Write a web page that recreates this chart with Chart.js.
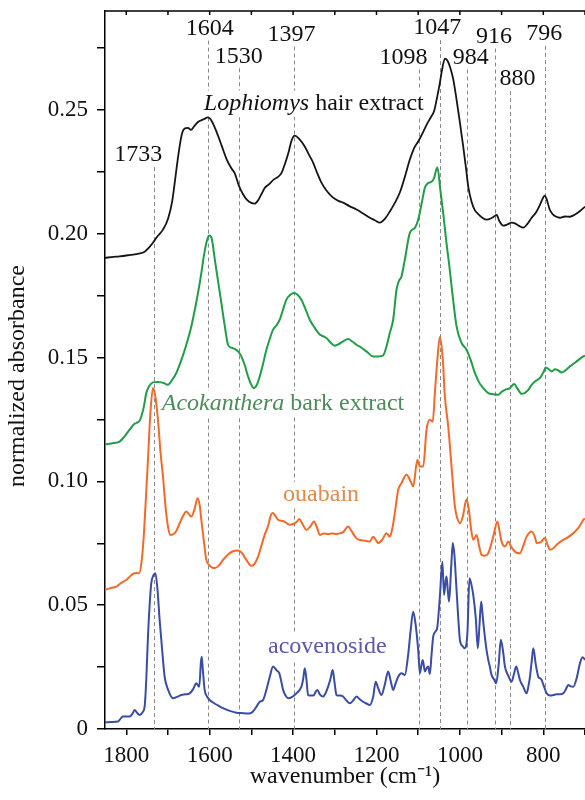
<!DOCTYPE html>
<html>
<head>
<meta charset="utf-8">
<script src="https://cdn.jsdelivr.net/npm/chart.js@4/dist/chart.umd.min.js"></script>
<style>
  body { margin: 0; background: #fff; }
  #spectra { display: block; }
</style>
</head>
<body>
<canvas id="spectra" width="585" height="800"></canvas>
<script>
// Lophiomys hair extract
const hairWn = [1851, 1830, 1816, 1790, 1770, 1756, 1745, 1736, 1725, 1712, 1700, 1690, 1682, 1675, 1667, 1660, 1652, 1645, 1637, 1628, 1615, 1604, 1595, 1583, 1570, 1559, 1548, 1540, 1530, 1520, 1511, 1500, 1492, 1484, 1476, 1468, 1458, 1446, 1436, 1428, 1418, 1410, 1403, 1396, 1386, 1372, 1362, 1352, 1342, 1332, 1320, 1304, 1290, 1280, 1265, 1248, 1232, 1216, 1204, 1192, 1180, 1168, 1156, 1144, 1132, 1120, 1110, 1100, 1090, 1080, 1070, 1062, 1056, 1048, 1042, 1036, 1030, 1024, 1016, 1008, 1000, 992, 985, 980, 972, 964, 956, 946, 936, 926, 918, 912, 905, 896, 886, 876, 868, 858, 848, 838, 828, 818, 810, 802, 797, 792, 785, 778, 770, 760, 748, 736, 724, 712, 700];
const hairAbs = [0.1903, 0.1907, 0.1909, 0.1915, 0.1920, 0.1928, 0.1945, 0.1964, 0.1990, 0.2017, 0.2060, 0.2130, 0.2230, 0.2320, 0.2400, 0.2425, 0.2428, 0.2420, 0.2435, 0.2452, 0.2462, 0.2470, 0.2455, 0.2410, 0.2350, 0.2300, 0.2265, 0.2245, 0.2195, 0.2160, 0.2138, 0.2125, 0.2122, 0.2135, 0.2160, 0.2185, 0.2200, 0.2220, 0.2230, 0.2245, 0.2290, 0.2335, 0.2380, 0.2397, 0.2385, 0.2353, 0.2320, 0.2288, 0.2245, 0.2207, 0.2175, 0.2146, 0.2132, 0.2126, 0.2112, 0.2098, 0.2082, 0.2065, 0.2055, 0.2045, 0.2060, 0.2090, 0.2125, 0.2167, 0.2230, 0.2300, 0.2345, 0.2373, 0.2405, 0.2440, 0.2470, 0.2495, 0.2540, 0.2610, 0.2670, 0.2708, 0.2700, 0.2676, 0.2625, 0.2542, 0.2450, 0.2352, 0.2260, 0.2191, 0.2130, 0.2095, 0.2080, 0.2065, 0.2057, 0.2062, 0.2070, 0.2076, 0.2050, 0.2033, 0.2038, 0.2045, 0.2042, 0.2032, 0.2025, 0.2040, 0.2065, 0.2085, 0.2110, 0.2140, 0.2154, 0.2140, 0.2100, 0.2080, 0.2070, 0.2065, 0.2070, 0.2069, 0.2078, 0.2092, 0.2110];

// Acokanthera bark extract
const barkWn = [1851, 1830, 1816, 1805, 1792, 1782, 1776, 1768, 1764, 1758, 1752, 1745, 1736, 1726, 1716, 1708, 1700, 1692, 1680, 1668, 1656, 1644, 1636, 1628, 1621, 1614, 1607, 1601, 1595, 1588, 1580, 1572, 1564, 1556, 1548, 1540, 1532, 1524, 1516, 1508, 1500, 1494, 1487, 1480, 1472, 1464, 1456, 1448, 1440, 1432, 1424, 1416, 1406, 1398, 1390, 1380, 1370, 1360, 1348, 1336, 1326, 1320, 1310, 1300, 1290, 1280, 1268, 1258, 1248, 1236, 1222, 1208, 1196, 1184, 1176, 1168, 1160, 1152, 1146, 1140, 1132, 1120, 1108, 1100, 1092, 1084, 1076, 1068, 1062, 1054, 1047, 1040, 1032, 1026, 1020, 1008, 996, 984, 974, 964, 954, 944, 932, 920, 908, 900, 892, 880, 870, 862, 852, 844, 836, 828, 820, 808, 800, 794, 786, 780, 772, 766, 756, 746, 736, 720, 704, 700];
const barkAbs = [0.1150, 0.1155, 0.1161, 0.1180, 0.1209, 0.1230, 0.1236, 0.1245, 0.1262, 0.1300, 0.1357, 0.1385, 0.1400, 0.1402, 0.1400, 0.1396, 0.1390, 0.1405, 0.1438, 0.1490, 0.1552, 0.1626, 0.1690, 0.1761, 0.1830, 0.1910, 0.1970, 0.1993, 0.1980, 0.1900, 0.1810, 0.1721, 0.1630, 0.1552, 0.1540, 0.1535, 0.1525, 0.1505, 0.1470, 0.1424, 0.1390, 0.1377, 0.1390, 0.1424, 0.1475, 0.1532, 0.1575, 0.1613, 0.1630, 0.1653, 0.1695, 0.1734, 0.1755, 0.1761, 0.1755, 0.1734, 0.1695, 0.1653, 0.1620, 0.1593, 0.1585, 0.1579, 0.1560, 0.1548, 0.1555, 0.1566, 0.1575, 0.1565, 0.1552, 0.1540, 0.1522, 0.1505, 0.1505, 0.1509, 0.1545, 0.1600, 0.1653, 0.1774, 0.1810, 0.1828, 0.1896, 0.2004, 0.2024, 0.2057, 0.2120, 0.2186, 0.2205, 0.2210, 0.2225, 0.2269, 0.2180, 0.2084, 0.1960, 0.1880, 0.1790, 0.1626, 0.1559, 0.1532, 0.1490, 0.1438, 0.1400, 0.1377, 0.1357, 0.1352, 0.1350, 0.1362, 0.1370, 0.1377, 0.1393, 0.1375, 0.1354, 0.1358, 0.1370, 0.1390, 0.1404, 0.1418, 0.1440, 0.1460, 0.1452, 0.1444, 0.1453, 0.1450, 0.1440, 0.1450, 0.1465, 0.1485, 0.1505, 0.1508];

// ouabain
const ouabainWn = [1851, 1840, 1824, 1812, 1800, 1790, 1784, 1775, 1769, 1763, 1758, 1754, 1748, 1742, 1736, 1730, 1724, 1718, 1712, 1706, 1700, 1694, 1688, 1680, 1672, 1664, 1656, 1650, 1644, 1636, 1629, 1624, 1620, 1614, 1608, 1600, 1594, 1588, 1578, 1568, 1556, 1544, 1532, 1522, 1512, 1500, 1492, 1484, 1476, 1468, 1460, 1454, 1449, 1442, 1436, 1424, 1414, 1408, 1400, 1392, 1385, 1378, 1368, 1358, 1350, 1342, 1336, 1326, 1316, 1306, 1296, 1288, 1280, 1268, 1260, 1248, 1236, 1226, 1216, 1208, 1202, 1196, 1186, 1176, 1168, 1162, 1156, 1148, 1140, 1128, 1118, 1112, 1102, 1096, 1088, 1080, 1072, 1065, 1060, 1054, 1048, 1041, 1036, 1028, 1020, 1012, 1006, 1000, 993, 984, 978, 974, 968, 960, 954, 948, 940, 932, 926, 920, 910, 904, 900, 892, 884, 878, 872, 864, 856, 848, 840, 828, 820, 816, 806, 796, 790, 784, 776, 768, 756, 744, 732, 720, 712, 704, 700];
const ouabainAbs = [0.0562, 0.0568, 0.0575, 0.0590, 0.0602, 0.0618, 0.0627, 0.0630, 0.0629, 0.0680, 0.0780, 0.0900, 0.1087, 0.1280, 0.1377, 0.1340, 0.1249, 0.1120, 0.1020, 0.0900, 0.0818, 0.0784, 0.0786, 0.0800, 0.0831, 0.0860, 0.0878, 0.0868, 0.0858, 0.0890, 0.0932, 0.0905, 0.0845, 0.0760, 0.0683, 0.0660, 0.0652, 0.0650, 0.0660, 0.0683, 0.0705, 0.0718, 0.0721, 0.0710, 0.0683, 0.0659, 0.0668, 0.0696, 0.0740, 0.0785, 0.0820, 0.0860, 0.0872, 0.0860, 0.0845, 0.0840, 0.0830, 0.0825, 0.0828, 0.0835, 0.0848, 0.0830, 0.0804, 0.0820, 0.0838, 0.0810, 0.0784, 0.0790, 0.0787, 0.0790, 0.0788, 0.0790, 0.0795, 0.0818, 0.0800, 0.0770, 0.0762, 0.0760, 0.0757, 0.0777, 0.0765, 0.0751, 0.0765, 0.0791, 0.0777, 0.0810, 0.0872, 0.0966, 0.0993, 0.1027, 0.1000, 0.0980, 0.1087, 0.1060, 0.1060, 0.1209, 0.1249, 0.1242, 0.1357, 0.1492, 0.1583, 0.1492, 0.1343, 0.1222, 0.1060, 0.0899, 0.0850, 0.0831, 0.0858, 0.0928, 0.0880, 0.0818, 0.0764, 0.0784, 0.0740, 0.0703, 0.0700, 0.0710, 0.0740, 0.0777, 0.0838, 0.0790, 0.0757, 0.0737, 0.0757, 0.0740, 0.0724, 0.0712, 0.0710, 0.0740, 0.0777, 0.0798, 0.0775, 0.0751, 0.0755, 0.0771, 0.0745, 0.0724, 0.0730, 0.0744, 0.0760, 0.0771, 0.0785, 0.0804, 0.0822, 0.0845, 0.0850];

// acovenoside
const acovWn = [1851, 1835, 1820, 1812, 1808, 1792, 1784, 1780, 1774, 1768, 1760, 1756, 1752, 1748, 1744, 1740, 1735, 1730, 1725, 1720, 1714, 1708, 1700, 1688, 1678, 1668, 1658, 1648, 1640, 1632, 1628, 1625, 1621, 1619, 1616, 1612, 1606, 1600, 1590, 1580, 1568, 1552, 1536, 1520, 1506, 1500, 1494, 1488, 1480, 1472, 1464, 1456, 1448, 1440, 1433, 1428, 1424, 1418, 1412, 1402, 1392, 1380, 1376, 1372, 1368, 1364, 1356, 1350, 1346, 1342, 1336, 1328, 1322, 1316, 1310, 1305, 1300, 1296, 1288, 1280, 1272, 1264, 1256, 1248, 1240, 1232, 1224, 1216, 1208, 1202, 1196, 1188, 1180, 1172, 1166, 1160, 1154, 1148, 1140, 1132, 1124, 1118, 1112, 1106, 1100, 1096, 1092, 1089, 1084, 1080, 1076, 1072, 1068, 1064, 1058, 1054, 1048, 1042, 1038, 1034, 1032, 1029, 1026, 1021, 1017, 1013, 1009, 1004, 1000, 994, 988, 982, 977, 972, 968, 962, 957, 953, 949, 946, 942, 937, 932, 928, 924, 918, 913, 907, 902, 897, 892, 884, 876, 870, 865, 860, 856, 848, 840, 836, 832, 828, 824, 818, 812, 808, 804, 798, 792, 784, 776, 768, 760, 752, 746, 740, 734, 728, 720, 712, 706, 700];
const acovAbs = [0.0027, 0.0028, 0.0030, 0.0045, 0.0050, 0.0050, 0.0065, 0.0077, 0.0065, 0.0057, 0.0070, 0.0090, 0.0200, 0.0373, 0.0500, 0.0589, 0.0620, 0.0629, 0.0560, 0.0441, 0.0320, 0.0211, 0.0160, 0.0124, 0.0130, 0.0137, 0.0140, 0.0144, 0.0160, 0.0185, 0.0176, 0.0171, 0.0270, 0.0292, 0.0230, 0.0158, 0.0130, 0.0117, 0.0105, 0.0095, 0.0084, 0.0073, 0.0066, 0.0064, 0.0063, 0.0065, 0.0075, 0.0090, 0.0110, 0.0117, 0.0158, 0.0210, 0.0252, 0.0238, 0.0225, 0.0190, 0.0158, 0.0135, 0.0124, 0.0130, 0.0144, 0.0171, 0.0200, 0.0245, 0.0200, 0.0137, 0.0135, 0.0137, 0.0150, 0.0158, 0.0140, 0.0131, 0.0145, 0.0171, 0.0205, 0.0238, 0.0180, 0.0137, 0.0135, 0.0131, 0.0115, 0.0104, 0.0115, 0.0131, 0.0120, 0.0110, 0.0103, 0.0097, 0.0130, 0.0191, 0.0165, 0.0137, 0.0180, 0.0232, 0.0195, 0.0158, 0.0185, 0.0211, 0.0225, 0.0218, 0.0300, 0.0400, 0.0474, 0.0420, 0.0319, 0.0225, 0.0260, 0.0279, 0.0232, 0.0245, 0.0252, 0.0222, 0.0300, 0.0373, 0.0395, 0.0413, 0.0535, 0.0676, 0.0542, 0.0600, 0.0616, 0.0560, 0.0515, 0.0650, 0.0751, 0.0700, 0.0589, 0.0450, 0.0360, 0.0335, 0.0326, 0.0387, 0.0609, 0.0580, 0.0542, 0.0450, 0.0326, 0.0420, 0.0515, 0.0470, 0.0400, 0.0330, 0.0279, 0.0250, 0.0218, 0.0200, 0.0185, 0.0260, 0.0360, 0.0320, 0.0252, 0.0215, 0.0191, 0.0225, 0.0252, 0.0225, 0.0198, 0.0170, 0.0144, 0.0170, 0.0211, 0.0270, 0.0326, 0.0260, 0.0211, 0.0205, 0.0198, 0.0170, 0.0144, 0.0135, 0.0137, 0.0140, 0.0140, 0.0144, 0.0160, 0.0178, 0.0172, 0.0171, 0.0205, 0.0266, 0.0290, 0.0280];

// marked bands (cm-1)
const peakWn = [1733, 1604, 1530, 1397, 1098, 1047, 984, 916, 880, 796];
const peakText = ['1733', '1604', '1530', '1397', '1098', '1047', '984', '916', '880', '796'];

const xTicksStep = 100;
const yTicksStep = 0.025;

const serif = '"Liberation Serif", "Times New Roman", serif';

function toPoints(wn, abs) {
    return wn.map((w, i) => ({x: w, y: abs[i]}));
}

// the scales keep the plot box exactly where it is in the figure
function noOverhang(scale) {
    scale.paddingLeft = 0;
    scale.paddingRight = 0;
    scale.paddingTop = 0;
    scale.paddingBottom = 0;
}

// where each band number is written: text centre (cm-1, absorbance)
const peakLabelPos = [
    [1771, 0.2318], [1600, 0.2829], [1530, 0.2717], [1404, 0.2805], [1135, 0.2712],
    [1054, 0.2831], [974, 0.2712], [918, 0.2797], [862, 0.2625], [798, 0.2807]
];

// curve names: left edge (cm-1) and baseline (absorbance)
const curveNames = [
    {parts: [['Lophiomys', true], [' hair extract', false]], color: '#111111', at: [1614, 0.2502]},
    {parts: [['Acokanthera', true], [' bark extract', false]], color: '#4e8b5b', at: [1715, 0.1289]},
    {parts: [['ouabain', false]], color: '#df8a4f', at: [1424, 0.0922]},
    {parts: [['acovenoside', false]], color: '#5a5aaa', at: [1460, 0.0307]}
];

const annotate = {
    id: 'annotate',
    beforeDatasetsDraw(chart) {
        const ctx = chart.ctx;
        const area = chart.chartArea;
        const x = chart.scales.x;
        const y = chart.scales.y;
        ctx.save();

        // top frame with inward ticks
        ctx.strokeStyle = '#000';
        ctx.lineWidth = 1.5;
        ctx.beginPath();
        ctx.moveTo(area.left, area.top);
        ctx.lineTo(area.right, area.top);
        for (let wn = 700; wn <= 1800; wn += xTicksStep) {
            let px = x.getPixelForValue(wn);
            ctx.moveTo(px, area.top);
            ctx.lineTo(px, area.top + 4);
        }
        ctx.stroke();

        // dashed band markers
        ctx.strokeStyle = '#8a8a8a';
        ctx.lineWidth = 1;
        ctx.setLineDash([4, 3]);
        for (let i = 0; i < peakWn.length; i++) {
            let px = Math.round(x.getPixelForValue(peakWn[i])) + 0.5;
            let top = y.getPixelForValue(peakLabelPos[i][1]) + 12;
            ctx.beginPath();
            ctx.moveTo(px, top);
            ctx.lineTo(px, area.bottom);
            ctx.stroke();
        }
        ctx.setLineDash([]);

        ctx.fillStyle = '#111';
        ctx.font = '24px ' + serif;
        ctx.textAlign = 'center';
        ctx.textBaseline = 'middle';
        for (let i = 0; i < peakText.length; i++) {
            ctx.fillText(peakText[i], x.getPixelForValue(peakLabelPos[i][0]), y.getPixelForValue(peakLabelPos[i][1]));
        }

        // curve names sit on a white patch that breaks the dashed lines
        ctx.textAlign = 'left';
        ctx.textBaseline = 'alphabetic';
        for (const name of curveNames) {
            let px = x.getPixelForValue(name.at[0]);
            let py = y.getPixelForValue(name.at[1]);
            let widths = name.parts.map(p => {
                ctx.font = (p[1] ? 'italic ' : '') + '24px ' + serif;
                return ctx.measureText(p[0]).width;
            });
            let total = widths.reduce((a, b) => a + b, 0);
            ctx.fillStyle = '#fff';
            ctx.fillRect(px - 3, py - 19, total + 6, 26);
            ctx.fillStyle = name.color;
            let cx = px;
            name.parts.forEach((p, k) => {
                ctx.font = (p[1] ? 'italic ' : '') + '24px ' + serif;
                ctx.fillText(p[0], cx, py);
                cx += widths[k];
            });
        }
        ctx.restore();
    }
};

const data = {
    datasets: [
        {label: 'Lophiomys hair extract', data: toPoints(hairWn, hairAbs), borderColor: '#151515', borderWidth: 1.8},
        {label: 'Acokanthera bark extract', data: toPoints(barkWn, barkAbs), borderColor: '#1f9d47', borderWidth: 2},
        {label: 'ouabain', data: toPoints(ouabainWn, ouabainAbs), borderColor: '#f26a2a', borderWidth: 2},
        {label: 'acovenoside', data: toPoints(acovWn, acovAbs), borderColor: '#3a4ca4', borderWidth: 2}
    ]
};

const config = {
    type: 'line',
    data: data,
    options: {
        responsive: false,
        animation: false,
        devicePixelRatio: 1,
        layout: {autoPadding: false, padding: {top: 11, right: 0, bottom: 0, left: 0}},
        elements: {
            point: {radius: 0},
            line: {cubicInterpolationMode: 'monotone', fill: false}
        },
        plugins: {
            legend: {display: false},
            tooltip: {enabled: false}
        },
        scales: {
            x: {
                type: 'linear',
                reverse: true,
                min: 700,
                max: 1851,
                afterFit: function(scale) {
                    scale.height = 71;
                    noOverhang(scale);
                },
                ticks: {
                    stepSize: xTicksStep,
                    includeBounds: false,
                    autoSkip: false,
                    maxRotation: 0,
                    padding: 7,
                    color: '#111',
                    font: {family: serif, size: 23},
                    callback: v => (v % 200 === 0 ? String(v) : '')
                },
                grid: {drawOnChartArea: false, tickLength: 6, color: '#000', lineWidth: 1.5},
                border: {color: '#000', width: 1.5},
                title: {
                    display: true,
                    text: 'wavenumber (cm\u207B\u00B9)',
                    color: '#111',
                    font: {family: serif, size: 24},
                    padding: {top: 0, bottom: 9}
                }
            },
            y: {
                min: 0,
                max: 0.29,
                afterFit: function(scale) {
                    scale.width = 105;
                    noOverhang(scale);
                },
                ticks: {
                    stepSize: yTicksStep,
                    includeBounds: false,
                    padding: 9,
                    color: '#111',
                    font: {family: serif, size: 23},
                    callback: function(v) {
                        if (Math.abs(v * 20 - Math.round(v * 20)) > 1e-6) return '';
                        return v === 0 ? '0' : v.toFixed(2);
                    }
                },
                grid: {drawOnChartArea: false, tickLength: 8, color: '#000', lineWidth: 1.5},
                border: {color: '#000', width: 1.5},
                title: {
                    display: true,
                    // two trailing spaces nudge the title a little lower, as in the figure
                    text: 'normalized absorbance\u00A0\u00A0',
                    color: '#111',
                    font: {family: serif, size: 24},
                    padding: {top: 3, bottom: 0}
                }
            }
        }
    },
    plugins: [annotate]
};

const myChart = new Chart(document.getElementById('spectra'), config);
</script>
</body>
</html>
